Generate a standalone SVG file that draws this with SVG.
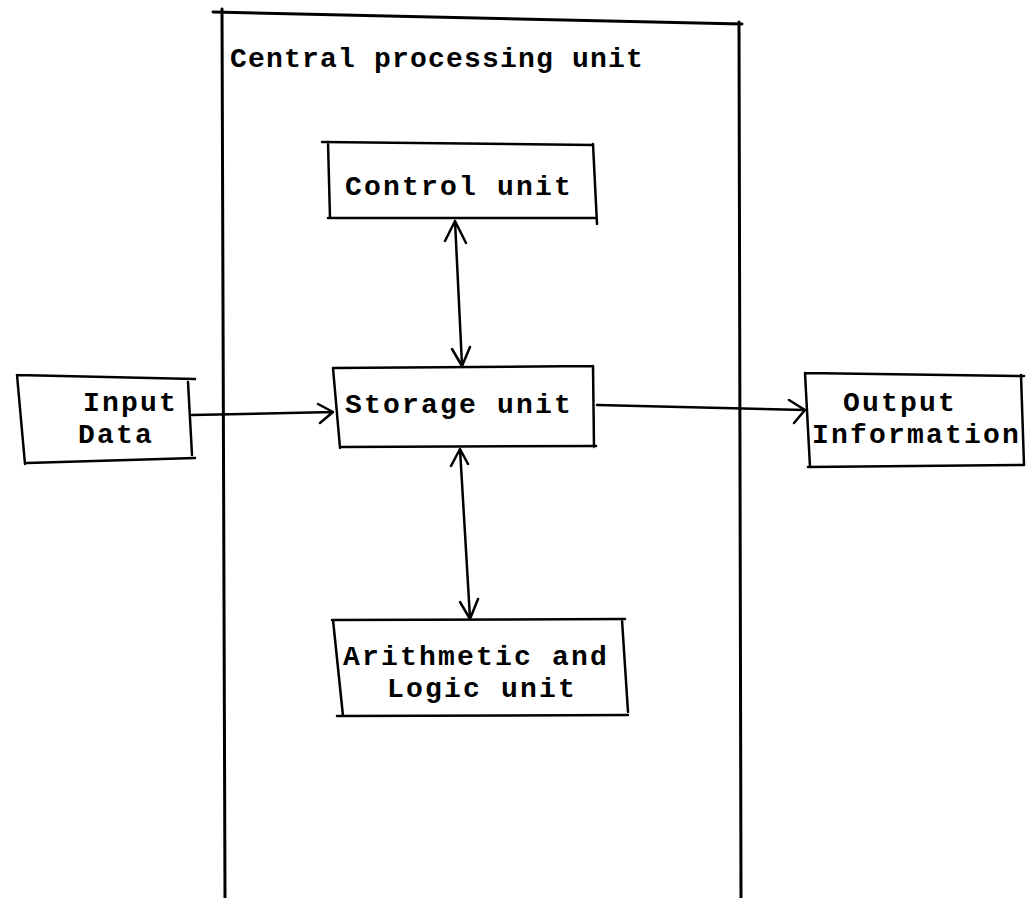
<svg xmlns="http://www.w3.org/2000/svg" width="1029" height="898" viewBox="0 0 1029 898">
<style>
.box{fill:none;stroke:#000;stroke-width:2.5;stroke-linecap:round;stroke-linejoin:round}
.ln{fill:none;stroke:#000;stroke-width:2.5;stroke-linecap:round;stroke-linejoin:round}
.t{font-family:"Liberation Mono","Courier New",monospace;font-weight:bold;font-size:28px;letter-spacing:2.2px;fill:#000}
</style>
<rect width="1029" height="898" fill="#fff"/>
<g id="cpu">
<path class="box" d="M213,12 L742,24 M222,9 L225,898 M739,22 L741,898" style="stroke-width:3"/>
<text class="t" x="230" y="67" style="letter-spacing:1.2px">Central processing unit</text>
</g>
<g id="control-unit">
<path class="box" d="M322,142 L593,145 M328,142 L330,218 M328,218 L596,218 M593,144 L597,224"/>
<text class="t" x="345" y="195">Control unit</text>
</g>
<g id="storage-unit">
<path class="box" d="M333,368 L593,366 M333,368 L340,448 M340,447 L596,446 M593,366 L594,447"/>
<text class="t" x="345" y="413">Storage unit</text>
</g>
<g id="input-data">
<path class="box" d="M17,375 L195,379 M17,375 L25,464 M27,463 L195,458 M188,382 L192,455"/>
<text class="t" x="83" y="411">Input</text>
<text class="t" x="78" y="443">Data</text>
</g>
<g id="output-information">
<path class="box" d="M805,373 L1024,376 M805,373 L810,467 M808,467 L1024,465 M1021,375 L1024,465"/>
<text class="t" x="843" y="411">Output</text>
<text class="t" x="812" y="443">Information</text>
</g>
<g id="alu">
<path class="box" d="M332,620 L625,619 M333,620 L343,716 M337,716 L628,715 M622,620 L628,712"/>
<text class="t" x="343" y="665">Arithmetic and</text>
<text class="t" x="387" y="697">Logic unit</text>
</g>
<g id="connectors">
<path class="ln" d="M455,221 L462,365 M445,241 L455,221 L466,243 M452,349 L462,366 L470,347"/>
<path class="ln" d="M460,449 L470,618 M451,466 L460,449 L468,464 M460,602 L470,619 L478,599"/>
<path class="ln" d="M192,415 L333,412 M318,404 L333,412 L320,423"/>
<path class="ln" d="M597,405 L805,410 M789,400 L805,410 L794,423"/>
</g>
</svg>
